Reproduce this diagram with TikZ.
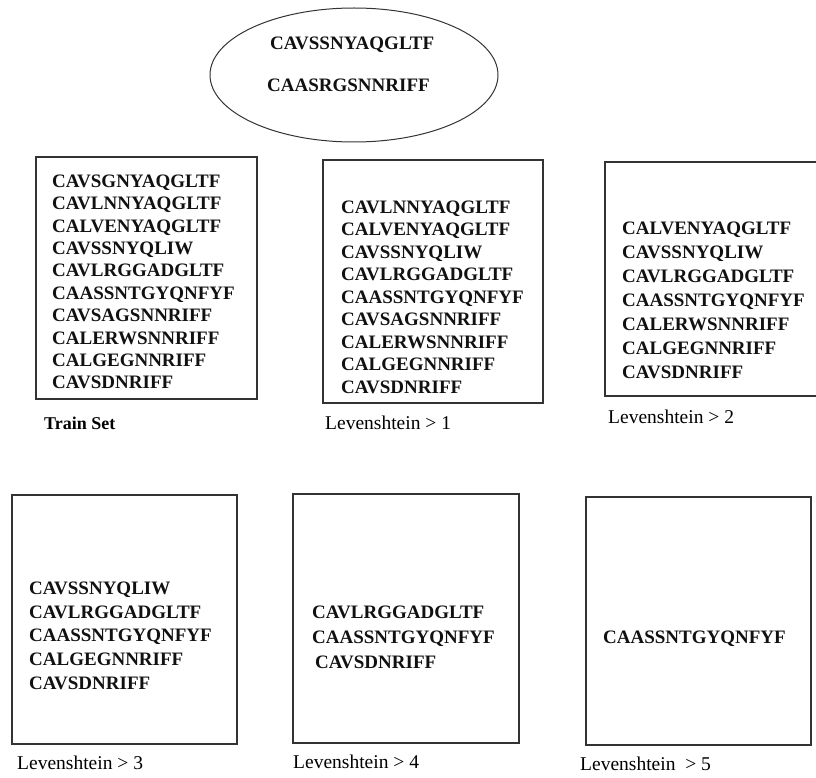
\documentclass[tikz,border=0pt]{standalone}
\usepackage{fontspec}
\setmainfont{Liberation Serif}
\usepackage{tikz}
\usetikzlibrary{shapes.geometric,positioning}
\definecolor{cLine}{HTML}{333333}
\definecolor{cText}{HTML}{111111}
\tikzset{
  setbox/.style={draw=cLine,line width=1.2pt,rectangle,inner sep=0pt},
  poolbox/.style={draw=cLine,line width=1pt,ellipse,inner sep=0pt,
              minimum width=288pt,minimum height=134pt},
  seqs/.style={anchor=north west,inner sep=0pt,align=left,text=cText,
              font=\fontsize{19}{22.4}\selectfont\bfseries},
  seq/.style={anchor=base west,inner sep=0pt,text=cText,
              font=\fontsize{19}{22}\selectfont\bfseries},
  setlbl/.style={anchor=base west,inner sep=0pt,text=black,
              font=\fontsize{19.5}{22}\selectfont},
}

\begin{document}
\begin{tikzpicture}[x=1pt,y=-1pt]
  \useasboundingbox (0,0) rectangle (816,778);
  % pool of query sequences
  \node[poolbox] (pool) at (354,75){};
  \node[seq] (poolA) at (270,49.5){CAVSSNYAQGLTF};
  \node[seq] (poolB) at (267,91.5){CAASRGSNNRIFF};
  % upper row
  \node[setbox,minimum width=221pt,minimum height=242pt] (train) at (146.5,278){};
  \node[seqs] (trainseq) at (52,174.5){CAVSGNYAQGLTF\\CAVLNNYAQGLTF\\CALVENYAQGLTF\\
    CAVSSNYQLIW\\CAVLRGGADGLTF\\CAASSNTGYQNFYF\\CAVSAGSNNRIFF\\CALERWSNNRIFF\\
    CALGEGNNRIFF\\CAVSDNRIFF};
  \node[setlbl,font=\fontsize{18}{22}\selectfont\bfseries] (trainlbl) at (44,429){Train Set};
  \node[setbox,minimum width=220pt,minimum height=243pt] (levA) at (433,281.5){};
  \node[seqs,font=\fontsize{19}{22.5}\selectfont\bfseries] (levAseq) at (341,200.5){CAVLNNYAQGLTF\\
    CALVENYAQGLTF\\CAVSSNYQLIW\\CAVLRGGADGLTF\\CAASSNTGYQNFYF\\CAVSAGSNNRIFF\\
    CALERWSNNRIFF\\CALGEGNNRIFF\\CAVSDNRIFF};
  \node[setlbl] (levAlbl) at (325,429){Levenshtein > 1};
  \node[setbox,minimum width=220pt,minimum height=234pt] (levB) at (715,279){};
  \node[seqs,font=\fontsize{19}{24}\selectfont\bfseries] (levBseq) at (622,221.5){CALVENYAQGLTF\\
    CAVSSNYQLIW\\CAVLRGGADGLTF\\CAASSNTGYQNFYF\\CALERWSNNRIFF\\CALGEGNNRIFF\\CAVSDNRIFF};
  \node[setlbl] (levBlbl) at (608,423){Levenshtein > 2};
  % lower row
  \node[setbox,minimum width=225pt,minimum height=249pt] (levC) at (124.5,619.5){};
  \node[seqs,font=\fontsize{19}{23.75}\selectfont\bfseries] (levCseq) at (29,581.5){CAVSSNYQLIW\\
    CAVLRGGADGLTF\\CAASSNTGYQNFYF\\CALGEGNNRIFF\\CAVSDNRIFF};
  \node[setlbl] (levClbl) at (17,769){Levenshtein > 3};
  \node[setbox,minimum width=226pt,minimum height=249pt] (levD) at (406,618.5){};
  \node[seqs,font=\fontsize{19}{25}\selectfont\bfseries] (levDseq) at (312,605.5){CAVLRGGADGLTF\\
    CAASSNTGYQNFYF\\\hspace{3pt}CAVSDNRIFF};
  \node[setlbl] (levDlbl) at (293,768){Levenshtein > 4};
  \node[setbox,minimum width=225pt,minimum height=248pt] (levE) at (698.5,621){};
  \node[seqs] (levEseq) at (603,630.5){CAASSNTGYQNFYF};
  \node[setlbl] (levElbl) at (580,770){Levenshtein\ \ > 5};
\end{tikzpicture}
\end{document}
